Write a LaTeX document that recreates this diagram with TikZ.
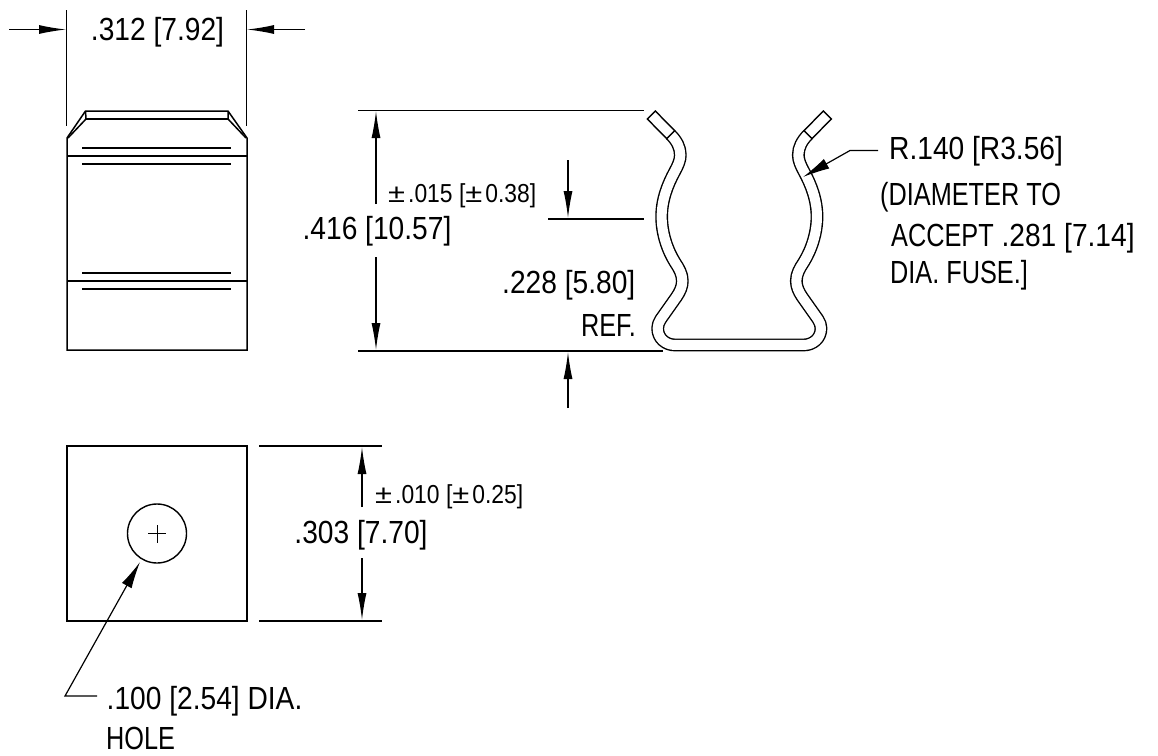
\documentclass[tikz,border=0pt]{standalone}
\usepackage{fontspec}
\setmainfont[FakeStretch=0.88]{Liberation Sans}
\newfontfamily\capsf[FakeStretch=0.79]{Liberation Sans}
\usetikzlibrary{arrows.meta}
\tikzset{
  part/.style={line width=1.5pt,line join=miter},
  thin part/.style={line width=1.3pt},
  dim/.style={line width=1.2pt},
  arr/.style={dim,-{Latex[length=27pt,width=9pt]}},
  warr/.style={dim,line join=miter,-{Latex[length=27pt,width=11pt]}},
  big/.style={font=\fontsize{32}{36}\selectfont,inner sep=0pt},
  small/.style={font=\fontsize{26}{30}\selectfont,inner sep=0pt}
}
\newcommand{\pmk}{\scalebox{1.35}[1]{±}\kern3pt}
\begin{document}
\begin{tikzpicture}[x=1pt,y=-1pt]
\useasboundingbox (0,0) rectangle (1158,755);
% top width dimension
\coordinate (wa) at (9,29.5); \coordinate (wb) at (66,29.5);
\coordinate (wc) at (305,29.5); \coordinate (wd) at (247,29.5);
\draw[dim] (66.7,10) -- (66.7,126);
\draw[dim] (246.7,10) -- (246.7,126);
\draw[arr] (wa) -- (wb);
\draw[arr] (wc) -- (wd);
\node[big,anchor=base] (t1) at (157.5,40) {.312 [7.92]};
% side view
\draw[part] (67,350) -- (67,138) -- (85.5,111) -- (228,111) -- (247,138) -- (247,350) -- cycle;
\draw[part] (85.5,111) -- (86,119) -- (68,138);
\draw[part] (228,111) -- (228,119) -- (246,138);
\draw[part] (86,119) -- (228,119);
\draw[thin part] (67,156) -- (247,156);
\draw[thin part] (67,281) -- (247,281);
\draw[thin part] (82,148) -- (231,148);
\draw[thin part] (82,164) -- (231,164);
\draw[thin part] (82,273) -- (231,273);
\draw[thin part] (82,289) -- (231,289);
% plan view
\draw[part] (67,446) rectangle (247,621);
\node[draw,circle,line width=1.4pt,minimum size=59pt,inner sep=0pt] (hole) at (157,533.5) {};
\draw[line width=.7pt] (148,533.5) -- (166,533.5) (157,525) -- (157,542.5);
\coordinate (l1) at (65,696); \coordinate (l2) at (97,696); \coordinate (l3) at (140,562);
\draw[warr] (l2) -- (l1) -- (l3);
\node[big,anchor=base west] (t2) at (106.5,709) {.100 [2.54] DIA.};
\node[big,anchor=base west] (t3) at (106,749) {\capsf HOLE};
% .303
\coordinate (e1) at (259,446); \coordinate (e2) at (382,446);
\coordinate (e3) at (259,621); \coordinate (e4) at (382,621);
\draw[dim] (e1) -- (e2) (e3) -- (e4);
\coordinate (a1) at (362,507); \coordinate (a2) at (362,447);
\coordinate (a3) at (362,558); \coordinate (a4) at (362,620);
\draw[arr] (a1) -- (a2);
\draw[arr] (a3) -- (a4);
\node[small,anchor=base west] (t4) at (375,503) {\pmk.010 [\pmk0.25]};
\node[big,anchor=base] (t5) at (361,543) {.303 [7.70]};
% .416
\coordinate (f1) at (358,110.5); \coordinate (f2) at (644,110.5);
\coordinate (f3) at (358,351); \coordinate (f4) at (663,351);
\draw[dim] (f1) -- (f2) (f3) -- (f4);
\coordinate (b1) at (376,204); \coordinate (b2) at (376,111);
\coordinate (b3) at (376,257); \coordinate (b4) at (376,350);
\draw[arr] (b1) -- (b2);
\draw[arr] (b3) -- (b4);
\node[big,anchor=base] (t6) at (377,239) {.416 [10.57]};
\node[small,anchor=base west] (t7) at (388,202) {\pmk.015 [\pmk0.38]};
% .228
\coordinate (g1) at (548,219); \coordinate (g2) at (644,219);
\draw[dim] (g1) -- (g2);
\coordinate (c1) at (568,160); \coordinate (c2) at (568,218);
\coordinate (c3) at (568,408); \coordinate (c4) at (568,352);
\draw[arr] (c1) -- (c2);
\draw[arr] (c3) -- (c4);
\node[big,anchor=base east] (t8) at (635.5,293) {.228 [5.80]};
\node[big,anchor=base east] (t9) at (636,336) {\capsf REF.};
% clip profile
\begin{scope}[shift={(630,90)},x=0.3333pt,y=-0.3333pt,line width=1.4pt]
\draw[double,double distance=10pt,line join=round]
  (122,134) .. controls (140,152) and (151,172) .. (151,195)
  .. controls (151,212) and (143,228) .. (135,243)
  .. controls (112,285) and (95,330) .. (95,380)
  .. controls (95,430) and (112,480) .. (135,517)
  .. controls (147,535) and (157,552) .. (157,573)
  .. controls (157,590) and (150,605) .. (140,620)
  -- (92,688)
  .. controls (86,697) and (83,706) .. (83,715)
  .. controls (83,745) and (107,765) .. (135,765)
  -- (521,765)
  .. controls (549,765) and (573,745) .. (573,715)
  .. controls (573,706) and (570,697) .. (564,688)
  -- (516,620)
  .. controls (506,605) and (499,590) .. (499,573)
  .. controls (499,552) and (509,535) .. (521,517)
  .. controls (544,480) and (561,430) .. (561,380)
  .. controls (561,330) and (544,285) .. (521,243)
  .. controls (513,228) and (505,212) .. (505,195)
  .. controls (505,172) and (516,152) .. (534,134);
\draw (52,87) -- (76,63) -- (134,122) -- (110,146) -- cycle;
\draw (604,87) -- (580,63) -- (522,122) -- (546,146) -- cycle;
\end{scope}
% radius leader
\coordinate (r1) at (878,150.5); \coordinate (r2) at (850,150.5); \coordinate (r3) at (803,177);
\draw[warr] (r1) -- (r2) -- (r3);
\node[big,anchor=base west] (t10) at (889,159) {R.140 [R3.56]};
\node[big,anchor=base west] (t11) at (880,205) {\capsf (DIAMETER TO};
\node[big,anchor=base west] (t12) at (891,246) {{\capsf ACCEPT} .281 [7.14]};
\node[big,anchor=base west] (t13) at (890,283) {\capsf DIA. FUSE.]};
\end{tikzpicture}
\end{document}
